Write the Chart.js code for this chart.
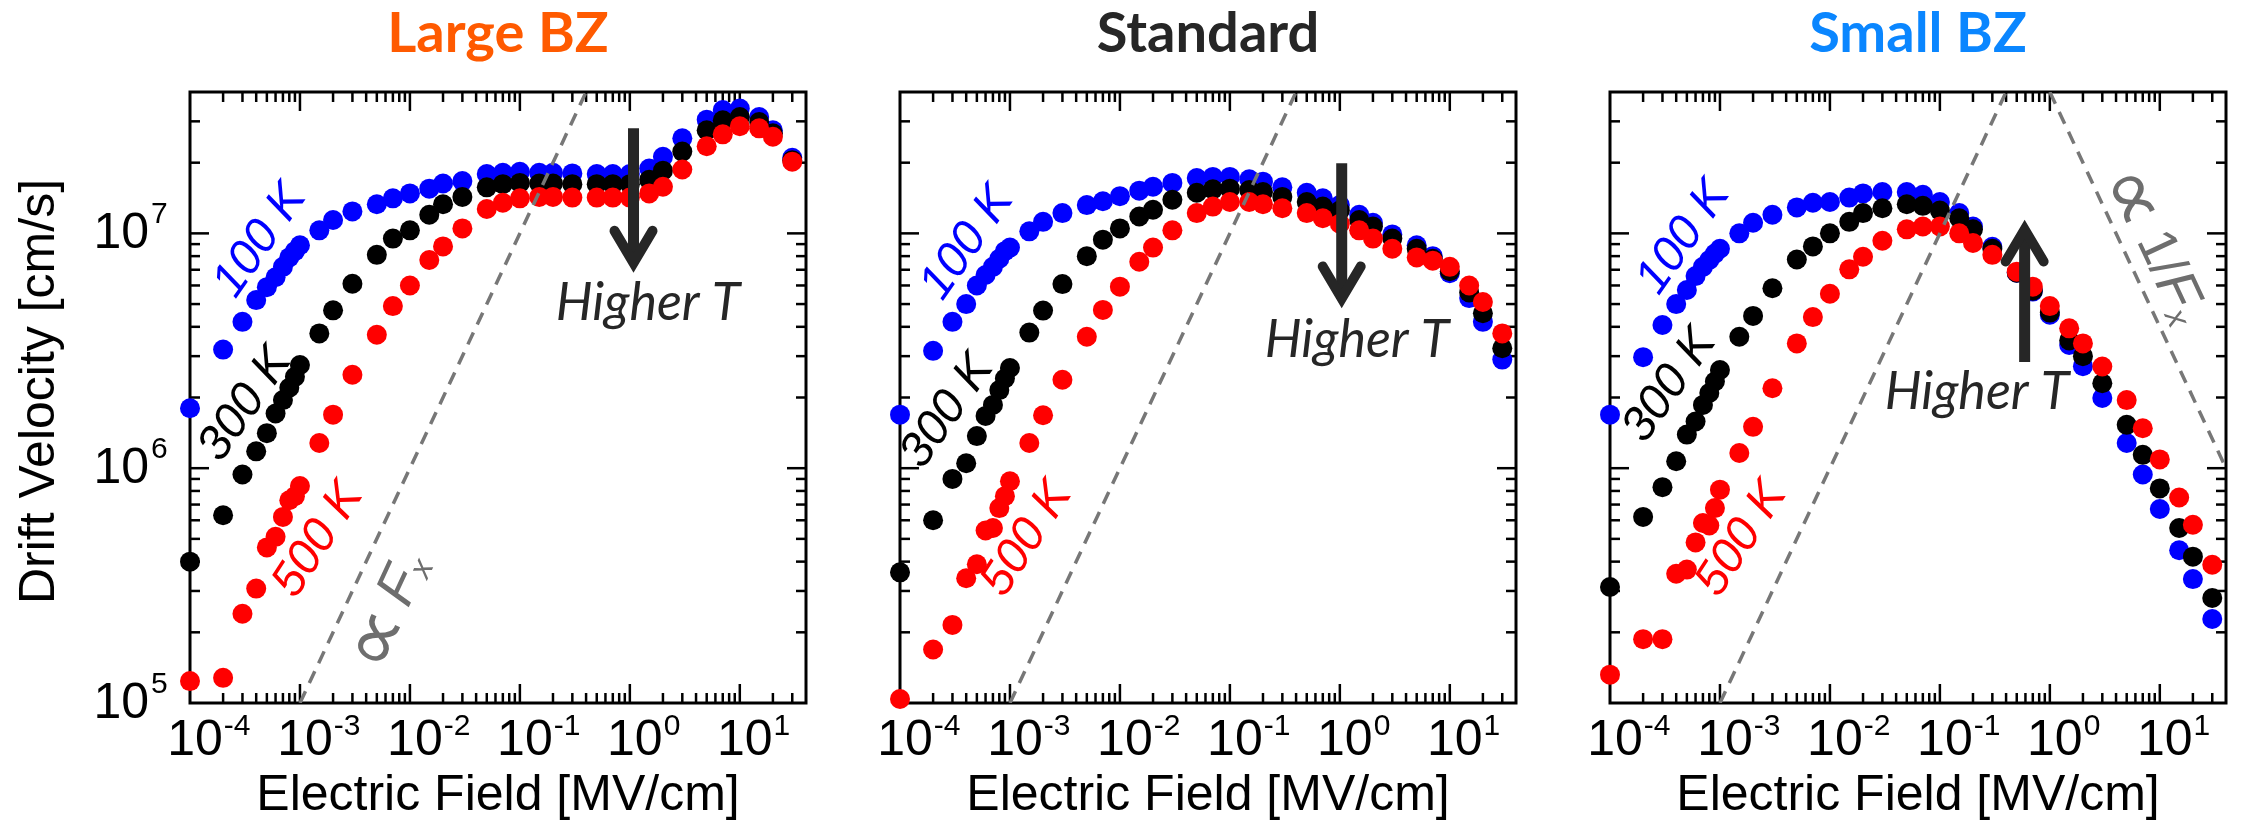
<!DOCTYPE html>
<html>
<head>
<meta charset="utf-8">
<script src="https://cdn.jsdelivr.net/npm/chart.js@4.4.1/dist/chart.umd.min.js"></script>
<style>
  body { margin: 0; background: #fff; }
  #wrap { position: relative; width: 2241px; height: 824px; }
  canvas { position: absolute; left: 0; top: 0; }
</style>
</head>
<body>
<div id="wrap">
  <canvas id="c0" width="2241" height="824"></canvas>
  <canvas id="c1" width="2241" height="824"></canvas>
  <canvas id="c2" width="2241" height="824"></canvas>
</div>
<script>
// electric field grid [MV/cm]
const campo = [1e-4, 2e-4, 3e-4, 4e-4, 5e-4, 6e-4, 7e-4, 8e-4, 9e-4, 1e-3,
  1.5e-3, 2e-3, 3e-3, 5e-3, 7e-3, 1e-2, 1.5e-2, 2e-2, 3e-2, 5e-2, 7e-2,
  0.1, 0.15, 0.2, 0.3, 0.5, 0.7, 1, 1.5, 2, 3, 5, 7, 10, 15, 20, 30];

// drift velocity [cm/s] - Large BZ
const large100 = [1.8e6, 3.2e6, 4.2e6, 5.2e6, 5.9e6, 6.5e6, 7.2e6, 7.9e6, 8.4e6, 8.9e6,
  1.03e7, 1.14e7, 1.24e7, 1.33e7, 1.41e7, 1.48e7, 1.55e7, 1.63e7, 1.67e7, 1.79e7, 1.81e7,
  1.83e7, 1.81e7, 1.81e7, 1.80e7, 1.79e7, 1.79e7, 1.79e7, 1.89e7, 2.12e7, 2.54e7, 3.05e7, 3.35e7,
  3.4e7, 3.13e7, 2.75e7, 2.1e7];
const large300 = [4.0e5, 6.3e5, 9.4e5, 1.18e6, 1.41e6, 1.71e6, 1.95e6, 2.2e6, 2.45e6, 2.75e6,
  3.75e6, 4.7e6, 6.1e6, 8.1e6, 9.5e6, 1.03e7, 1.2e7, 1.33e7, 1.43e7, 1.57e7, 1.62e7,
  1.64e7, 1.63e7, 1.63e7, 1.62e7, 1.62e7, 1.62e7, 1.62e7, 1.69e7, 1.85e7, 2.23e7, 2.75e7, 3.03e7,
  3.13e7, 2.98e7, 2.67e7, 2.05e7];
const large500 = [1.24e5, 1.28e5, 2.4e5, 3.07e5, 4.6e5, 5.1e5, 6.2e5, 7.3e5, 7.6e5, 8.4e5,
  1.28e6, 1.69e6, 2.5e6, 3.7e6, 4.9e6, 6.0e6, 7.7e6, 8.8e6, 1.05e7, 1.27e7, 1.35e7,
  1.41e7, 1.43e7, 1.43e7, 1.42e7, 1.42e7, 1.42e7, 1.42e7, 1.48e7, 1.58e7, 1.87e7, 2.35e7, 2.64e7,
  2.86e7, 2.8e7, 2.58e7, 2.02e7];

// Standard
const std100 = [1.69e6, 3.16e6, 4.2e6, 5.0e6, 6.0e6, 6.65e6, 7.2e6, 7.8e6, 8.4e6, 8.7e6,
  1.02e7, 1.12e7, 1.22e7, 1.32e7, 1.37e7, 1.44e7, 1.52e7, 1.58e7, 1.64e7, 1.72e7, 1.74e7,
  1.74e7, 1.70e7, 1.66e7, 1.57e7, 1.49e7, 1.41e7, 1.32e7, 1.2e7, 1.11e7, 9.9e6, 8.9e6, 8.0e6,
  6.76e6, 5.3e6, 4.2e6, 2.9e6];
const std300 = [3.6e5, 6.0e5, 9.0e5, 1.05e6, 1.37e6, 1.67e6, 1.86e6, 2.15e6, 2.41e6, 2.67e6,
  3.78e6, 4.69e6, 6.08e6, 8.0e6, 9.4e6, 1.05e7, 1.18e7, 1.26e7, 1.39e7, 1.49e7, 1.54e7,
  1.55e7, 1.53e7, 1.50e7, 1.43e7, 1.36e7, 1.30e7, 1.25e7, 1.14e7, 1.07e7, 9.5e6, 8.6e6, 7.8e6,
  6.9e6, 5.6e6, 4.57e6, 3.24e6];
const std500 = [1.04e5, 1.69e5, 2.15e5, 3.4e5, 3.9e5, 5.43e5, 5.56e5, 6.76e5, 7.6e5, 8.8e5,
  1.28e6, 1.68e6, 2.38e6, 3.63e6, 4.72e6, 5.93e6, 7.57e6, 8.7e6, 1.03e7, 1.22e7, 1.30e7,
  1.36e7, 1.36e7, 1.33e7, 1.28e7, 1.22e7, 1.16e7, 1.1e7, 1.03e7, 9.5e6, 8.6e6, 7.9e6, 7.65e6,
  7.2e6, 6.0e6, 5.1e6, 3.75e6];

// Small BZ
const small100 = [1.69e6, 2.97e6, 4.07e6, 5.0e6, 5.74e6, 6.58e6, 7.2e6, 7.7e6, 8.2e6, 8.6e6,
  1.0e7, 1.11e7, 1.2e7, 1.29e7, 1.35e7, 1.36e7, 1.42e7, 1.48e7, 1.50e7, 1.50e7, 1.46e7,
  1.36e7, 1.22e7, 1.07e7, 8.77e6, 6.8e6, 5.65e6, 4.5e6, 3.35e6, 2.72e6, 1.99e6, 1.28e6, 9.4e5,
  6.7e5, 4.47e5, 3.37e5, 2.28e5];
const small300 = [3.12e5, 6.2e5, 8.3e5, 1.07e6, 1.39e6, 1.58e6, 1.86e6, 2.09e6, 2.34e6, 2.62e6,
  3.63e6, 4.45e6, 5.84e6, 7.74e6, 8.8e6, 1.0e7, 1.12e7, 1.22e7, 1.28e7, 1.33e7, 1.31e7,
  1.25e7, 1.16e7, 1.04e7, 8.6e6, 6.8e6, 5.7e6, 4.6e6, 3.5e6, 3.0e6, 2.3e6, 1.53e6, 1.14e6,
  8.2e5, 5.56e5, 4.2e5, 2.8e5];
const small500 = [1.32e5, 1.87e5, 1.87e5, 3.55e5, 3.7e5, 4.83e5, 5.84e5, 5.7e5, 6.76e5, 8.1e5,
  1.16e6, 1.5e6, 2.19e6, 3.4e6, 4.4e6, 5.53e6, 7.03e6, 7.95e6, 9.3e6, 1.04e7, 1.07e7,
  1.07e7, 1.0e7, 9.1e6, 8.1e6, 6.87e6, 5.93e6, 4.9e6, 3.94e6, 3.4e6, 2.71e6, 1.95e6, 1.48e6,
  1.09e6, 7.5e5, 5.74e5, 3.88e5];

// guide lines  v ∝ F  and  v ∝ 1/F
const guideF = [[1e-3, 1e5], [0.4, 4e7]];
const guideInvF = [[1, 4e7], [40, 1e6]];

// axis ticks (decade exponents)
const xExps = [-4, -3, -2, -1, 0, 1];
const yExps = [5, 6, 7];

const SANS = '"Liberation Sans", Arial, "DejaVu Sans", sans-serif';
const PROP = '84px "DejaVu Sans", sans-serif';
const W = 2241, H = 824;
const TOP = 92, BOTTOM = 703, PW = 616;

const note = (t, x, y, color, rot, size = 48) => ({
  parts: [{ t, f: `italic ${size}px ${SANS}` }], x, y, color, rot
});

const panels = [
  {
    id: 'c0', left: 190, title: 'Large BZ', titleColor: '#ff5a00',
    series: [large100, large300, large500], yLabels: true,
    guides: [guideF],
    notes: [
      note('100 K', 4.35e-4, 9.3e6, '#0000ff', -55),
      note('300 K', 3.2e-4, 1.87e6, '#000000', -55),
      note('500 K', 1.47e-3, 4.95e5, '#ff0000', -57),
      { parts: [{ t: '\u221D', f: PROP, dy: 4 }, { t: ' ', f: `40px ${SANS}` }, { t: 'F', f: `italic 56px ${SANS}` },
        { t: 'x', f: `italic 32px ${SANS}`, dy: 12 }], x: 6.5e-3, y: 2.45e5, color: '#6e6e6e', rot: -65 }
    ],
    arrow: { x: 1.08, from: 2.8e7, to: 7.2e6 },
    higher: { x: 1.46, y: 4.27e6 }
  },
  {
    id: 'c1', left: 900, title: 'Standard', titleColor: '#262626',
    series: [std100, std300, std500], yLabels: false,
    guides: [guideF],
    notes: [
      note('100 K', 4.1e-4, 9.1e6, '#0000ff', -55),
      note('300 K', 2.7e-4, 1.75e6, '#000000', -55),
      note('500 K', 1.43e-3, 5.0e5, '#ff0000', -57)
    ],
    arrow: { x: 1.04, from: 1.99e7, to: 5.08e6 },
    higher: { x: 1.43, y: 2.97e6 }
  },
  {
    id: 'c2', left: 1610, title: 'Small BZ', titleColor: '#0a86ff',
    series: [small100, small300, small500], yLabels: false,
    guides: [guideF, guideInvF],
    notes: [
      note('100 K', 4.67e-4, 9.6e6, '#0000ff', -55),
      note('300 K', 3.5e-4, 2.25e6, '#000000', -55),
      note('500 K', 1.58e-3, 5.0e5, '#ff0000', -57),
      { parts: [{ t: '\u221D', f: PROP, dy: 4 }, { t: ' ', f: `40px ${SANS}` }, { t: '1/', f: `54px ${SANS}` },
        { t: 'F', f: `italic 56px ${SANS}` }, { t: 'x', f: `italic 32px ${SANS}`, dy: 12 }],
        x: 9.0, y: 8.9e6, color: '#6e6e6e', rot: 65 }
    ],
    arrow: { x: 0.59, from: 2.83e6, to: 1.08e7 },
    higher: { x: 0.217, y: 1.78e6 }
  }
];

const drawParts = (ctx, parts, cx, cy, rot) => {
  ctx.save();
  ctx.translate(cx, cy);
  ctx.rotate(rot * Math.PI / 180);
  let w = 0;
  parts.forEach(p => { ctx.font = p.f; p.w = ctx.measureText(p.t).width; w += p.w; });
  let xx = -w / 2;
  ctx.textBaseline = 'middle';
  ctx.textAlign = 'left';
  parts.forEach(p => { ctx.font = p.f; ctx.fillText(p.t, xx, p.dy || 0); xx += p.w; });
  ctx.restore();
};

const marcoPlugin = {
  id: 'marco',
  beforeDatasetsDraw(chart) {
    const { ctx, chartArea: a, scales: { x, y } } = chart;
    ctx.save();
    ctx.strokeStyle = '#000';
    ctx.lineWidth = 2.5;
    const seg = (x1, y1, x2, y2) => { ctx.beginPath(); ctx.moveTo(x1, y1); ctx.lineTo(x2, y2); ctx.stroke(); };
    for (const e of xExps) {
      for (let m = 1; m <= 9; m++) {
        const v = m * Math.pow(10, e);
        if (v <= x.min || v >= x.max) continue;
        const px = x.getPixelForValue(v);
        const len = m === 1 ? 19 : 10;
        seg(px, a.bottom, px, a.bottom - len);
        seg(px, a.top, px, a.top + len);
      }
    }
    for (const e of yExps) {
      for (let m = 1; m <= 9; m++) {
        const v = m * Math.pow(10, e);
        if (v <= y.min || v >= y.max) continue;
        const py = y.getPixelForValue(v);
        const len = m === 1 ? 19 : 10;
        seg(a.left, py, a.left + len, py);
        seg(a.right, py, a.right - len, py);
      }
    }
    ctx.lineWidth = 3;
    ctx.strokeRect(a.left, a.top, a.right - a.left, a.bottom - a.top);
    ctx.restore();
  },
  afterDraw(chart, args, opts) {
    const p = opts.panel;
    const { ctx, chartArea: a, scales: { x, y } } = chart;
    const cx = (a.left + a.right) / 2;
    ctx.save();
    ctx.fillStyle = '#000';
    ctx.textBaseline = 'alphabetic';

    // x tick labels 10^n
    for (const e of xExps) {
      const px = x.getPixelForValue(Math.pow(10, e));
      ctx.font = `50px ${SANS}`;
      ctx.textAlign = 'center';
      ctx.fillText('10', px + 5, a.bottom + 52);
      const w10 = ctx.measureText('10').width;
      ctx.font = `30px ${SANS}`;
      ctx.textAlign = 'left';
      ctx.fillText(String(e), px + 5 + w10 / 2 + 1, a.bottom + 32);
    }
    if (p.yLabels) {
      for (const e of yExps) {
        const py = y.getPixelForValue(Math.pow(10, e));
        ctx.font = `50px ${SANS}`;
        ctx.textAlign = 'right';
        ctx.fillText('10', a.left - 41, py + 15);
        ctx.font = `30px ${SANS}`;
        ctx.textAlign = 'left';
        ctx.fillText(String(e), a.left - 39, py - 10);
      }
      ctx.save();
      ctx.translate(40, (a.top + a.bottom) / 2 - 6);
      ctx.rotate(-Math.PI / 2);
      ctx.font = `50px ${SANS}`;
      ctx.textAlign = 'center';
      ctx.textBaseline = 'middle';
      ctx.fillText('Drift Velocity [cm/s]', 0, 0);
      ctx.restore();
    }
    ctx.font = `50px ${SANS}`;
    ctx.textAlign = 'center';
    ctx.fillText('Electric Field [MV/cm]', cx, 810);

    // panel title
    ctx.font = 'bold 56px Lato, "Open Sans", sans-serif';
    ctx.fillStyle = p.titleColor;
    ctx.fillText(p.title, cx, 52);

    // temperature labels and proportionality notes
    for (const n of p.notes) {
      ctx.fillStyle = n.color;
      drawParts(ctx, n.parts, x.getPixelForValue(n.x), y.getPixelForValue(n.y), n.rot);
    }

    // Higher T
    ctx.fillStyle = '#262626';
    ctx.font = 'italic 52px Lato, "Open Sans", sans-serif';
    ctx.textAlign = 'center';
    ctx.fillText('Higher T', x.getPixelForValue(p.higher.x), y.getPixelForValue(p.higher.y));

    // arrow
    const ax = x.getPixelForValue(p.arrow.x);
    const y1 = y.getPixelForValue(p.arrow.from);
    const y2 = y.getPixelForValue(p.arrow.to);
    const dir = Math.sign(y2 - y1);
    ctx.strokeStyle = '#262626';
    ctx.lineWidth = 11;
    ctx.lineCap = 'butt';
    ctx.beginPath();
    ctx.moveTo(ax, y1);
    ctx.lineTo(ax, y2 - dir * 6);
    ctx.stroke();
    ctx.lineJoin = 'miter';
    ctx.lineCap = 'round';
    ctx.lineWidth = 10;
    ctx.beginPath();
    ctx.moveTo(ax - 19, y2 - dir * 36);
    ctx.lineTo(ax, y2 - dir * 4);
    ctx.lineTo(ax + 19, y2 - dir * 36);
    ctx.stroke();
    ctx.restore();
  }
};

const dots = (data, color, order) => ({
  data: campo.map((f, i) => ({ x: f, y: data[i] })),
  backgroundColor: color,
  borderWidth: 0,
  pointRadius: 10,
  pointHoverRadius: 10,
  showLine: false,
  clip: false,
  order
});

const guide = (pts) => ({
  data: pts.map(([f, v]) => ({ x: f, y: v })),
  showLine: true,
  borderColor: '#777777',
  borderWidth: 3.5,
  borderDash: [13, 9],
  pointRadius: 0,
  fill: false,
  order: 0
});

for (const p of panels) {
  const [s100, s300, s500] = p.series;
  new Chart(document.getElementById(p.id), {
    type: 'scatter',
    data: {
      datasets: [
        dots(s100, '#0000ff', 3),
        dots(s300, '#000000', 2),
        dots(s500, '#ff0000', 1),
        ...p.guides.map(guide)
      ]
    },
    options: {
      responsive: false,
      animation: false,
      events: [],
      layout: { padding: { left: p.left, right: W - p.left - PW, top: TOP, bottom: H - BOTTOM } },
      scales: {
        x: { type: 'logarithmic', min: 1e-4, max: 40, display: false },
        y: { type: 'logarithmic', min: 1e5, max: 4e7, display: false }
      },
      plugins: {
        legend: { display: false },
        tooltip: { enabled: false },
        marco: { panel: p }
      }
    },
    plugins: [marcoPlugin]
  });
}
</script>
</body>
</html>
